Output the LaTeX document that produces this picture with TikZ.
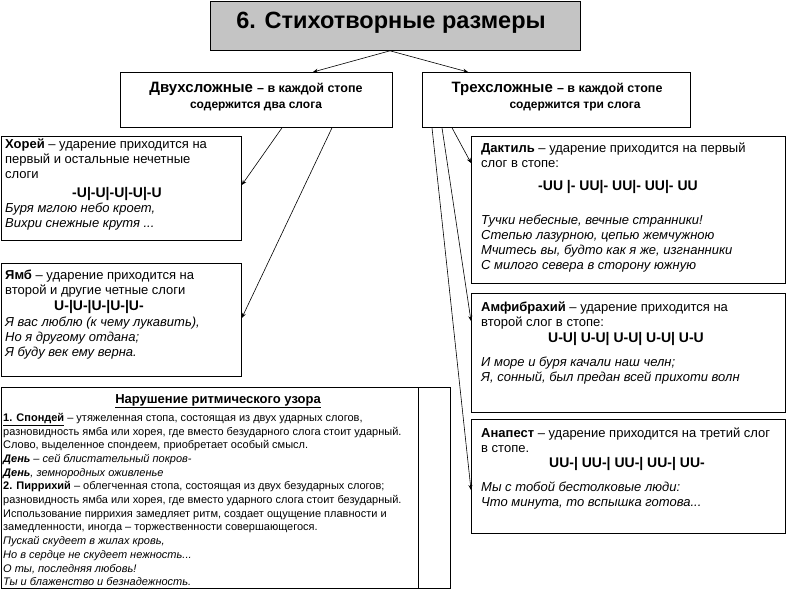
\documentclass[tikz,border=0pt]{standalone}
\usepackage{fontspec}
\setmainfont{Liberation Sans}
\usetikzlibrary{arrows.meta,calc}
\definecolor{titlegray}{HTML}{C4C4C4}
\begin{document}
\begin{tikzpicture}[x=1pt,y=-1pt,
  box/.style={draw=black,line width=0.8pt,fill=white,inner sep=0pt,anchor=north west},
  txt/.style={inner sep=0pt,anchor=north west,align=left,font=\fontsize{13}{15}\selectfont},
  smalltxt/.style={inner sep=0pt,anchor=north west,align=left,font=\fontsize{11}{13.7}\selectfont},
  formula/.style={inner sep=0pt,anchor=base,font=\bfseries\fontsize{14}{15}\selectfont},
  headbig/.style={inner sep=0pt,anchor=base},
  arr/.style={draw=black,line width=0.6pt,-{Stealth[length=5pt,width=4pt]}}]
\useasboundingbox (0,0) rectangle (800,600);

% boxes
\node[box,fill=titlegray,minimum width=370pt,minimum height=49pt] (title) at (210,1) {};
\node[box,minimum width=272pt,minimum height=55pt] (lh) at (120,72) {};
\node[box,minimum width=268pt,minimum height=55pt] (rh) at (422,72) {};
\node[box,minimum width=240pt,minimum height=104pt] (khorey) at (1,136) {};
\node[box,minimum width=240pt,minimum height=113pt] (yamb) at (1,263) {};
\node[box,minimum width=449pt,minimum height=201pt] (bottom) at (1,387) {};
\node[box,fill=none,minimum width=417pt,minimum height=201pt] (bottomin) at (1,387) {};
\node[box,minimum width=314pt,minimum height=147pt] (daktil) at (471,136) {};
\node[box,minimum width=314pt,minimum height=119pt] (amfi) at (471,293) {};
\node[box,minimum width=314pt,minimum height=114pt] (anapest) at (471,419) {};

% title and headers
\node[inner sep=0pt,anchor=base,font=\bfseries\fontsize{23.5}{26}\selectfont] (titletext) at (391,28) {6. Стихотворные размеры};
\node[headbig] (lh1) at (256,92) {\bfseries\fontsize{15}{16}\selectfont Двухсложные \fontsize{12.5}{16}\selectfont – в каждой стопе};
\node[headbig] (lh2) at (256,108) {\bfseries\fontsize{12}{16}\selectfont содержится два слога};
\node[headbig] (rh1) at (557,92) {\bfseries\fontsize{15}{16}\selectfont Трехсложные \fontsize{12.5}{16}\selectfont – в каждой стопе};
\node[headbig] (rh2) at (575,108) {\bfseries\fontsize{12}{16}\selectfont содержится три слога};

% Хорей
\node[txt] (k1) at (5,139) {\textbf{Хорей} – ударение приходится на\\первый и остальные нечетные\\слоги};
\node[formula] (kf) at (117,197) {-U|-U|-U|-U|-U};
\node[txt] (k2) at (5,203) {\itshape Буря мглою небо кроет,\\\itshape Вихри снежные крутя ...};

% Ямб
\node[txt] (y1) at (5,270) {\textbf{Ямб} – ударение приходится на\\второй и другие четные слоги};
\node[formula] (yf) at (99,310) {U-|U-|U-|U-|U-};
\node[txt] (y2) at (5,317) {\itshape Я вас люблю (к чему лукавить),\\\itshape Но я другому отдана;\\\itshape Я буду век ему верна.};

% Нарушение
\node[inner sep=0pt,anchor=base,font=\bfseries\fontsize{13}{14}\selectfont] (bt) at (218,403) {\underline{Нарушение ритмического узора}};
\node[smalltxt] (b1) at (3,413) {\textbf{\underline{1. Спондей}} – утяжеленная стопа, состоящая из двух ударных слогов,\\
разновидность ямба или хорея, где вместо безударного слога стоит ударный.\\
Слово, выделенное спондеем, приобретает особый смысл.\\
\textbf{\textit{День}} \textit{– сей блистательный покров-}\\
\textbf{\textit{День}}\textit{, земнородных оживленье}\\
\textbf{2. Пиррихий} – облегченная стопа, состоящая из двух безударных слогов;\\
разновидность ямба или хорея, где вместо ударного слога стоит безударный.\\
Использование пиррихия замедляет ритм, создает ощущение плавности и\\
замедленности, иногда – торжественности совершающегося.\\
\textit{Пускай скудеет в жилах кровь,}\\
\textit{Но в сердце не скудеет нежность...}\\
\textit{О ты, последняя любовь!}\\
\textit{Ты и блаженство и безнадежность.}};

% Дактиль
\node[txt] (d1) at (481,143) {\textbf{Дактиль} – ударение приходится на первый\\слог в стопе:};
\node[formula] (df) at (618,190) {-UU |- UU|- UU|- UU|- UU};
\node[txt] (d2) at (481,215) {\itshape Тучки небесные, вечные странники!\\\itshape Степью лазурною, цепью жемчужною\\\itshape Мчитесь вы, будто как я же, изгнанники\\\itshape С милого севера в сторону южную};

% Амфибрахий
\node[txt] (a1) at (481,302) {\textbf{Амфибрахий} – ударение приходится на\\второй слог в стопе:};
\node[formula] (af) at (626,342) {U-U| U-U| U-U| U-U| U-U};
\node[txt] (a2) at (481,357) {\itshape И море и буря качали наш челн;\\\itshape Я, сонный, был предан всей прихоти волн};

% Анапест
\node[txt] (n1) at (481,428) {\textbf{Анапест} – ударение приходится на третий слог\\в стопе.};
\node[formula] (nf) at (627,467) {UU-| UU-| UU-| UU-| UU-};
\node[txt] (n2) at (481,482) {\itshape Мы с тобой бестолковые люди:\\\itshape Что минута, то вспышка готова...};

% connectors
\draw[arr] ([xshift=180pt]title.south west) -- ([xshift=193pt]lh.north west);
\draw[arr] ([xshift=180pt]title.south west) -- ([xshift=46pt]rh.north west);
\draw[arr] ([xshift=162pt]lh.south west) -- ([yshift=-49pt]khorey.north east);
\draw[arr] ([xshift=212pt]lh.south west) -- ([yshift=-55pt]yamb.north east);
\draw[arr] ([xshift=30pt]rh.south west) -- ([yshift=-27pt]daktil.north west);
\draw[arr] ([xshift=20pt]rh.south west) -- ([yshift=-28pt]amfi.north west);
\draw[arr] ([xshift=10pt]rh.south west) -- ([yshift=-71pt]anapest.north west);
\end{tikzpicture}
\end{document}
